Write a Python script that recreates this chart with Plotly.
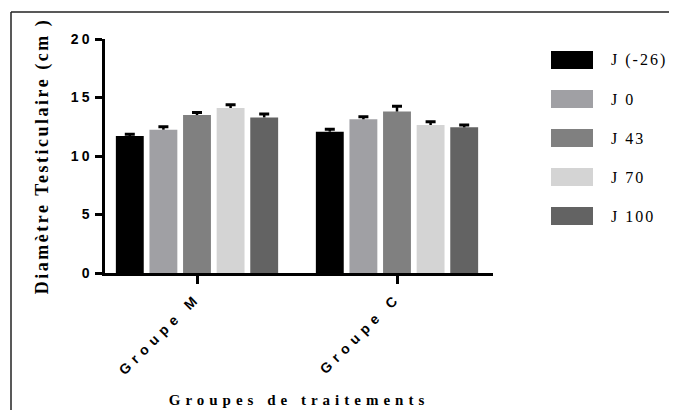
import plotly.graph_objects as go

# ---- data ----
groups = ["Groupe M", "Groupe C"]
series_names = ["J (-26)", "J 0", "J 43", "J 70", "J 100"]
series_colors = ["#000000", "#a0a0a4", "#808080", "#d4d4d4", "#636363"]
values_M = [11.7, 12.25, 13.5, 14.1, 13.3]
values_C = [12.08, 13.14, 13.8, 12.65, 12.45]
err_M = [0.15, 0.25, 0.22, 0.28, 0.30]
err_C = [0.20, 0.22, 0.45, 0.28, 0.20]
y_ticks = [0, 5, 10, 15, 20]

# ---- layout geometry ----
W, H = 677, 410
OFF = 8  # page body margin of the html page
# plot area edges in page pixels
PL, PR, PT, PB = 105, 493, 39, 273
L, R, T, B = PL - OFF, PR - OFF, PT - OFF, PB - OFF
pw, ph = R - L, B - T


def px_x(page_px):
    return (page_px - OFF - L) / pw


def px_y(page_py):
    return (B - (page_py - OFF)) / ph


def spaced(text, sp):
    return '<span style="letter-spacing:%spx">%s</span>' % (sp, text)


fig = go.Figure()
for i, name in enumerate(series_names):
    vals = [values_M[i], values_C[i]]
    errs = [err_M[i], err_C[i]]
    # bar with the error-bar stem
    fig.add_trace(go.Bar(
        x=groups, y=vals, name=name, offsetgroup=str(i),
        marker=dict(color=series_colors[i], line=dict(width=0)),
        error_y=dict(type="data", symmetric=False, array=errs,
                     arrayminus=[0, 0], color="#000000", thickness=2.5, width=0),
        showlegend=False,
    ))
    # transparent bar at the top of the error bar, carrying its cap
    fig.add_trace(go.Bar(
        x=groups, y=[v + e for v, e in zip(vals, errs)], name=name,
        offsetgroup=str(i),
        marker=dict(color="rgba(0,0,0,0)", line=dict(width=0)),
        error_y=dict(type="data", array=[0, 0], color="#000000",
                     thickness=3, width=5),
        showlegend=False, hoverinfo="skip",
    ))

fig.update_layout(
    width=W, height=H,
    margin=dict(l=L, r=W - R, t=T, b=H - B, autoexpand=False),
    plot_bgcolor="white", paper_bgcolor="white",
    barmode="group", bargap=0.16, bargroupgap=0.17,
    xaxis=dict(
        range=[-0.46, 1.48],
        tickvals=groups, ticktext=[spaced(g, 5.5) for g in groups],
        showline=True, linecolor="#000000", linewidth=2.5,
        ticks="outside", ticklen=8, tickwidth=2.5, tickcolor="#000000",
        tickangle=-45,
        tickfont=dict(family="Liberation Sans", size=14, color="#000000", weight="bold"),
        showgrid=False, zeroline=False,
        title=dict(text=spaced("Groupes de traitements", 5), standoff=18,
                   font=dict(family="Liberation Serif", size=15, color="#000000",
                             weight="bold")),
        automargin=False,
    ),
    yaxis=dict(
        range=[0, 20], tickvals=y_ticks,
        ticktext=[spaced(str(t), 3) for t in y_ticks],
        showline=True, linecolor="#000000", linewidth=2.5,
        ticks="outside", ticklen=7, tickwidth=2.5, tickcolor="#000000",
        tickfont=dict(family="Liberation Sans", size=14, color="#000000", weight="bold"),
        showgrid=False, zeroline=False,
        title=dict(text=spaced("Diamètre Testiculaire (cm )", 2.5), standoff=18,
                   font=dict(family="Liberation Serif", size=18, color="#000000",
                             weight="bold")),
        automargin=False,
    ),
)

# frame (top and left edges of the original cropped figure)
shapes = [
    dict(type="line", xref="paper", yref="paper",
         x0=px_x(11), x1=px_x(W + OFF), y0=px_y(12), y1=px_y(12),
         line=dict(color="#222222", width=1.5)),
    dict(type="line", xref="paper", yref="paper",
         x0=px_x(11), x1=px_x(11), y0=px_y(12), y1=px_y(H + OFF),
         line=dict(color="#222222", width=1.5)),
]

# custom legend with large swatches
annotations = []
for i, (name, col) in enumerate(zip(series_names, series_colors)):
    cy = 60 + 39 * i
    shapes.append(dict(type="rect", xref="paper", yref="paper",
                       x0=px_x(551), x1=px_x(593),
                       y0=px_y(cy + 9), y1=px_y(cy - 9),
                       fillcolor=col, line=dict(width=0)))
    annotations.append(dict(xref="paper", yref="paper",
                            x=px_x(609), y=px_y(cy),
                            xanchor="left", yanchor="middle",
                            text=spaced(name, 2), showarrow=False,
                            font=dict(family="Liberation Serif", size=16,
                                      color="#000000")))

fig.update_layout(shapes=shapes, annotations=annotations)

fig.write_html("out.html")
